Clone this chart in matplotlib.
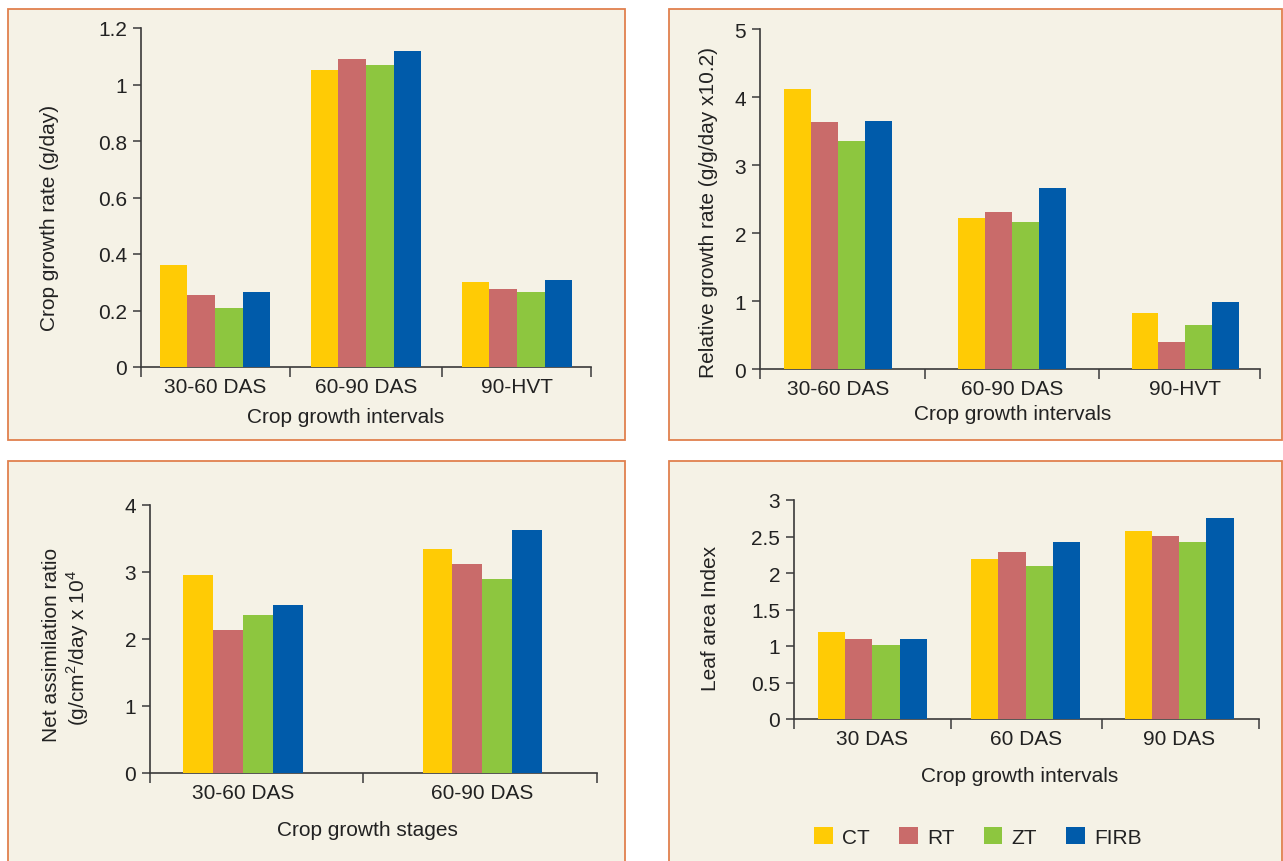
import numpy as np
import matplotlib
matplotlib.use("Agg")
import matplotlib.pyplot as plt
from matplotlib.patches import Rectangle, Patch

plt.rcParams['font.family'] = ['Liberation Sans', 'DejaVu Sans']
plt.rcParams['font.size'] = 15
plt.rcParams['mathtext.fontset'] = 'custom'
plt.rcParams['mathtext.rm'] = 'Liberation Sans'

# ---- data ----
treatments = ["CT", "RT", "ZT", "FIRB"]
colors = ["#FFCB05", "#C96B6A", "#8DC63F", "#005BAA"]

cgr_cats = ["30-60 DAS", "60-90 DAS", "90-HVT"]
cgr_CT = [0.36, 1.05, 0.30]
cgr_RT = [0.256, 1.09, 0.277]
cgr_ZT = [0.21, 1.07, 0.266]
cgr_FIRB = [0.266, 1.12, 0.309]

rgr_cats = ["30-60 DAS", "60-90 DAS", "90-HVT"]
rgr_CT = [4.12, 2.22, 0.83]
rgr_RT = [3.63, 2.31, 0.40]
rgr_ZT = [3.35, 2.16, 0.64]
rgr_FIRB = [3.65, 2.66, 0.99]

nar_cats = ["30-60 DAS", "60-90 DAS"]
nar_CT = [2.95, 3.35]
nar_RT = [2.14, 3.12]
nar_ZT = [2.36, 2.90]
nar_FIRB = [2.51, 3.63]

lai_cats = ["30 DAS", "60 DAS", "90 DAS"]
lai_CT = [1.19, 2.19, 2.58]
lai_RT = [1.09, 2.29, 2.51]
lai_ZT = [1.01, 2.10, 2.42]
lai_FIRB = [1.10, 2.43, 2.76]

W, H = 1283, 862
fig = plt.figure(figsize=(W / 100, H / 100), dpi=100)
fig.patch.set_facecolor("white")

BG = "#F5F2E6"
EDGE = "#E0804E"
AXC = "#3a3a3a"
TXT = "#222222"


def px(x, y):
    return x / W, 1 - y / H


def panel(x0, y0, x1, y1):
    r = Rectangle((x0 / W, 1 - y1 / H), (x1 - x0) / W, (y1 - y0) / H,
                  transform=fig.transFigure, facecolor=BG, edgecolor=EDGE,
                  linewidth=1.3, zorder=-5)
    fig.patches.append(r)


def axes_at(x0, y0, x1, y1):
    ax = fig.add_axes([x0 / W, 1 - y1 / H, (x1 - x0) / W, (y1 - y0) / H])
    ax.set_facecolor("none")
    ax.set_zorder(2)
    return ax


def bars(ax, cats, series, group, xlim, bounds, ymax, yticks, ticklabels):
    n = len(cats)
    x = np.arange(n)
    w = group / 4
    for i, vals in enumerate(series):
        ax.bar(x - group / 2 + w * (i + 0.5), vals, width=w, color=colors[i],
               linewidth=0, zorder=3)
    ax.set_xlim(*xlim)
    ax.set_ylim(0, ymax)
    ax.set_xticks([xlim[0]] + bounds + [xlim[1]])
    ax.set_xticklabels([])
    ax.set_xticks(x, minor=True)
    ax.set_xticklabels(cats, minor=True)
    ax.tick_params(axis="x", which="major", length=7, width=1.1, color=AXC)
    ax.tick_params(axis="x", which="minor", length=0, pad=7, labelcolor=TXT)
    ax.set_yticks(yticks)
    ax.set_yticklabels(ticklabels)
    ax.tick_params(axis="y", length=6, width=1.1, color=AXC, pad=4,
                   labelcolor=TXT)
    for s in ["top", "right"]:
        ax.spines[s].set_visible(False)
    for s in ["left", "bottom"]:
        ax.spines[s].set_color(AXC)
        ax.spines[s].set_linewidth(1.2)


panel(8, 10, 625, 441)
panel(669, 10, 1282, 441)
panel(8, 462, 625, 875)
panel(669, 462, 1282, 875)

# Crop growth rate
ax1 = axes_at(141, 29, 591, 368)
bars(ax1, cgr_cats, [cgr_CT, cgr_RT, cgr_ZT, cgr_FIRB], 0.73,
     (-0.49, 2.49), [0.5, 1.5], 1.2,
     [0, 0.2, 0.4, 0.6, 0.8, 1, 1.2], ["0", "0.2", "0.4", "0.6", "0.8", "1", "1.2"])
fig.text(*px(50, 218), "Crop growth rate (g/day)", rotation=90, ha="center", va="center", color=TXT)
fig.text(*px(346, 418), "Crop growth intervals", ha="center", va="center", color=TXT)

# Relative growth rate
ax2 = axes_at(760, 30, 1260, 370)
bars(ax2, rgr_cats, [rgr_CT, rgr_RT, rgr_ZT, rgr_FIRB], 0.62,
     (-0.45, 2.43), [0.5, 1.5], 5,
     [0, 1, 2, 3, 4, 5], ["0", "1", "2", "3", "4", "5"])
fig.text(*px(708, 212), "Relative growth rate (g/g/day x10.2)", rotation=90, ha="center", va="center", color=TXT)
fig.text(*px(1013, 415), "Crop growth intervals", ha="center", va="center", color=TXT)

# Net assimilation ratio
ax3 = axes_at(150, 506, 597, 774)
bars(ax3, nar_cats, [nar_CT, nar_RT, nar_ZT, nar_FIRB], 0.50,
     (-0.39, 1.48), [0.5], 4,
     [0, 1, 2, 3, 4], ["0", "1", "2", "3", "4"])
fig.text(*px(52, 645), "Net assimilation ratio", rotation=90, ha="center", va="center", color=TXT)
fig.text(*px(78, 648), "(g/cm$^{\\mathregular{2}}$/day x 10$^{\\mathregular{4}}$",
         rotation=90, ha="center", va="center", color=TXT)
fig.text(*px(367, 831), "Crop growth stages", ha="center", va="center", color=TXT)

# Leaf area index
ax4 = axes_at(794, 501, 1259, 720)
bars(ax4, lai_cats, [lai_CT, lai_RT, lai_ZT, lai_FIRB], 0.71,
     (-0.51, 2.52), [0.51, 1.5], 3,
     [0, 0.5, 1, 1.5, 2, 2.5, 3], ["0", "0.5", "1", "1.5", "2", "2.5", "3"])
fig.text(*px(710, 618), "Leaf area Index", rotation=90, ha="center", va="center", color=TXT)
fig.text(*px(1020, 777), "Crop growth intervals", ha="center", va="center", color=TXT)

handles = [Patch(facecolor=c, edgecolor="none") for c in colors]
fig.legend(handles, treatments, loc="center", bbox_to_anchor=px(978, 838),
           ncol=4, frameon=False, handlelength=0.9, handleheight=0.9,
           handletextpad=0.45, columnspacing=1.4, labelcolor=TXT)

fig.savefig("out.png", dpi=100, facecolor="white")
